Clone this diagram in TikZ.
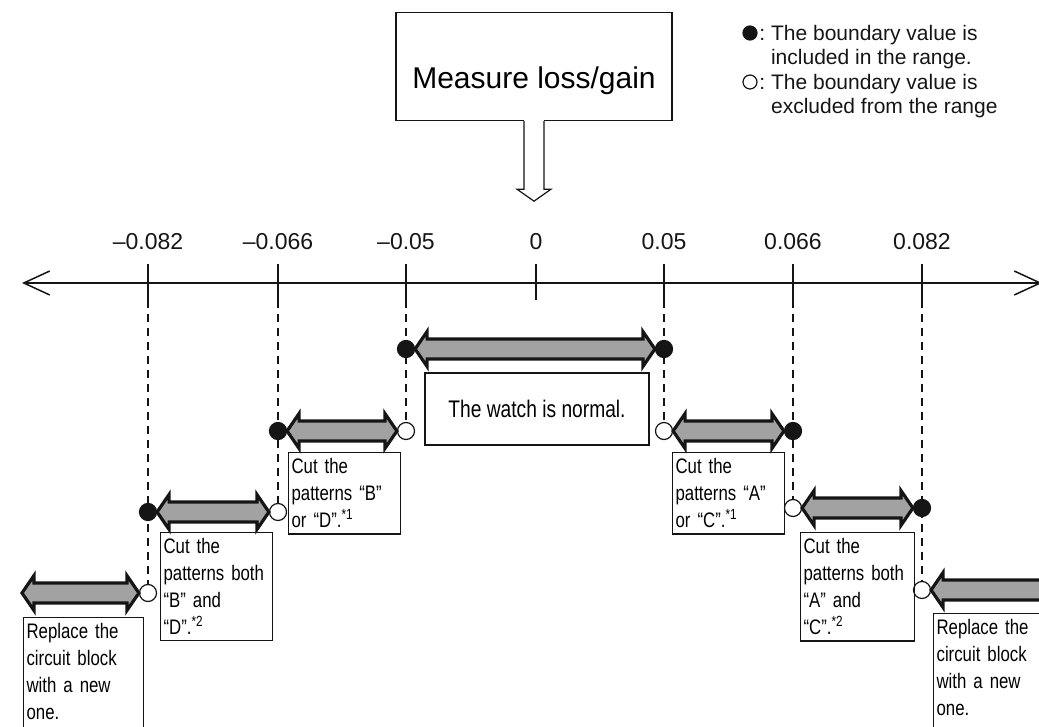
\documentclass[tikz,border=0pt]{standalone}
\usepackage{fontspec}
\setmainfont{Liberation Sans}
\newfontfamily\narrowsf[FakeStretch=0.8]{Liberation Sans}
\usepackage{tikz}
\usetikzlibrary{arrows.meta,positioning,calc,backgrounds}
\definecolor{ScaleInk}{HTML}{151515}
\definecolor{ScaleBand}{HTML}{A2A2A2}
\newcommand{\bandarrow}[2]{%
  \draw[band] let \p1=(#1), \p2=(#2) in
    (\p1) -- ++(6pt,8.75pt) -- ++(0,-3.75pt) -- ({\x2-6pt},{\y2+5pt})
    -- ++(0,3.75pt) -- (\p2) -- ++(-6pt,-8.75pt) -- ++(0,3.75pt)
    -- ({\x1+6pt},{\y1-5pt}) -- ++(0,-3.75pt) -- cycle;}

\begin{document}
\begin{tikzpicture}[x=0.5pt, y=-0.5pt,
    axisline/.style={draw=ScaleInk, line width=0.75pt},
    scaletick/.style={draw=ScaleInk, line width=1pt},
    guide/.style={draw=ScaleInk, line width=0.6pt, dash pattern=on 4pt off 3pt},
    incl/.style={circle, fill=ScaleInk, draw=ScaleInk, line width=0.6pt,
      minimum size=8.5pt, inner sep=0pt},
    excl/.style={incl, fill=white},
    band/.style={fill=ScaleBand, draw=ScaleInk, line width=1.6pt, line join=miter},
    scalelabel/.style={font=\fontsize{11.5}{14}\selectfont, text=ScaleInk},
    legendtext/.style={font=\fontsize{10.5}{12}\selectfont, align=left,
      inner sep=0pt, anchor=north west, text=ScaleInk},
    titlebox/.style={draw=ScaleInk, line width=0.6pt, anchor=north,
      minimum width=138pt, text height=34pt, text depth=12pt, inner ysep=4pt,
      font=\fontsize{15}{18}\selectfont},
    hollowarrow/.style={draw=ScaleInk, line width=0.6pt, fill=white},
    normalbox/.style={draw=ScaleInk, line width=0.6pt, minimum width=112pt,
      minimum height=36pt, font=\narrowsf\fontsize{12}{14}\selectfont},
    remedy/.style={draw=ScaleInk, line width=0.6pt, anchor=north west, align=left,
      text width=#1, inner xsep=1.5pt, inner ysep=3pt,
      font=\narrowsf\fontsize{10.5}{13.5}\selectfont}
  ]
    \useasboundingbox (0,0) rectangle (1039,727);
    \clip (0,0) rectangle (1039,727);

    \node[titlebox] (measure) at (534,12) {Measure loss/gain};
    \fill[white] ($(measure.south)+(-5pt,1pt)$) rectangle ($(measure.south)+(5pt,-1pt)$);
    \draw[hollowarrow] ($(measure.south)+(-5pt,0)$) -- ++(0,-34pt) -- ++(-3.5pt,0)
      -- ++(8.5pt,-6pt) -- ++(8.5pt,6pt) -- ++(-3.5pt,0) -- ++(0,34pt);

    \node[incl, minimum size=7pt] (keyin) at (750,33) {};
    \node[legendtext] (keyintext) at (759,25)
      {:\ The boundary value is\\\phantom{:\ }included in the range.};
    \node[excl, minimum size=7pt] (keyex) at (750,82) {};
    \node[legendtext] (keyextext) at (759,74)
      {:\ The boundary value is\\\phantom{:\ }excluded from the range};

    \coordinate (axl) at (22,283);
    \coordinate (axr) at (1042,283);
    \draw[axisline, {Straight Barb[length=13pt,width=12pt]}-{Straight Barb[length=13pt,width=12pt]}]
      (axl) -- (axr);
    \foreach \tx/\tname/\tlabel in {148/m82/{\textendash0.082}, 278/m66/{\textendash0.066},
        406/m50/{\textendash0.05}, 536/zero/0, 664/p50/0.05, 793/p66/0.066, 922/p82/0.082} {
      \draw[scaletick] (\tx,264) -- (\tx,300) coordinate (\tname);
      \node[scalelabel] (lab\tname) at (\tx,242) {\tlabel};
    }

    \node[incl] (nl) at (406,349) {};
    \node[incl] (nr) at (664,349) {};
    \node[incl] (bl) at (278,431) {};
    \node[excl] (br) at (406,431) {};
    \node[excl] (al) at (664,431) {};
    \node[incl] (ar) at (793,431) {};
    \node[incl] (bdl) at (148,512) {};
    \node[excl] (bdr) at (278,512) {};
    \node[excl] (acl) at (793,508) {};
    \node[incl] (acr) at (922,508) {};
    \node[excl] (repl) at (148,593) {};
    \node[excl] (repr) at (922,590) {};
    \coordinate (farl) at (22,593);
    \coordinate (farr) at (1080,590);

    \begin{scope}[on background layer]
      \draw[guide] (m82) -- (repl);
      \draw[guide] (m66) -- (bdr);
      \draw[guide] (m50) -- (br);
      \draw[guide] (p50) -- (al);
      \draw[guide] (p66) -- (acl);
      \draw[guide] (p82) -- (repr);
    \end{scope}

    \bandarrow{nl.east}{nr.west}
    \bandarrow{bl.east}{br.west}
    \bandarrow{al.east}{ar.west}
    \bandarrow{bdl.east}{bdr.west}
    \bandarrow{acl.east}{acr.west}
    \bandarrow{farl}{repl.west}
    \bandarrow{repr.east}{farr}

    \node[normalbox] (normal) at (537,409) {The watch is normal.};
    \node[remedy=53pt] (cutbd) at (288,452)
      {Cut the\\patterns “B”\\or “D”.\textsuperscript{*1}};
    \node[remedy=53pt] (cutac) at (672,452)
      {Cut the\\patterns “A”\\or “C”.\textsuperscript{*1}};
    \node[remedy=53pt] (cutbothbd) at (160,532)
      {Cut the\\patterns both\\“B” and\\“D”.\textsuperscript{*2}};
    \node[remedy=54pt] (cutbothac) at (800,532)
      {Cut the\\patterns both\\“A” and\\“C”.\textsuperscript{*2}};
    \node[remedy=57pt] (newblockl) at (23,617)
      {Replace the\\circuit block\\with a new\\one.\rule[-8pt]{0pt}{8pt}};
    \node[remedy=60pt] (newblockr) at (933,613)
      {Replace the\\circuit block\\with a new\\one.\rule[-8pt]{0pt}{8pt}};
  \end{tikzpicture}
\end{document}
